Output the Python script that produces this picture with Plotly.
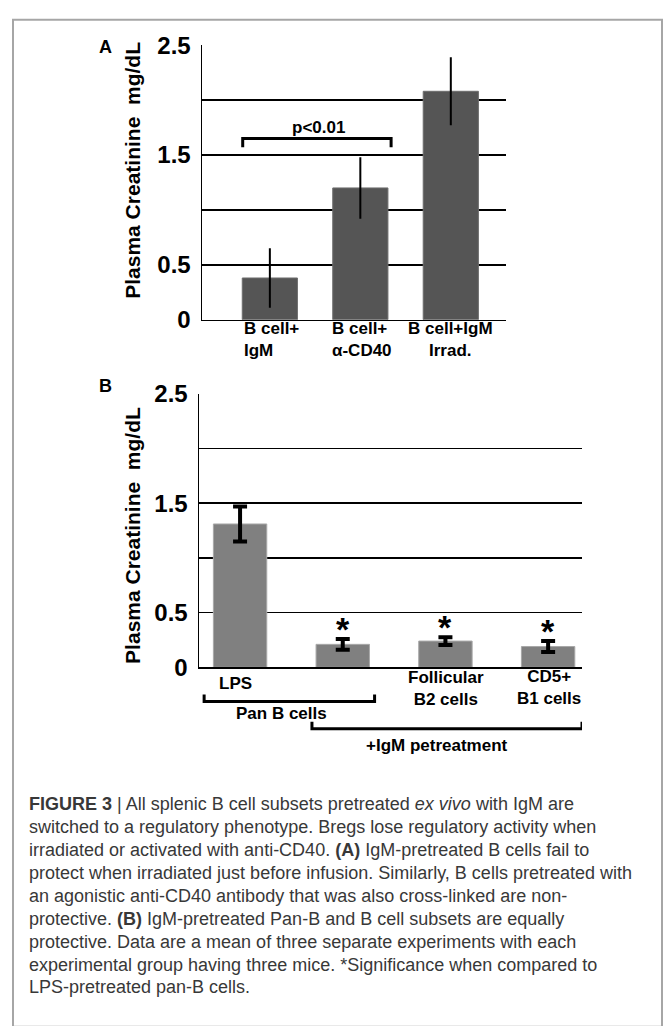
import plotly.graph_objects as go

# ---------------- data ----------------
a_categories = ["B cell+ IgM", "B cell+ α-CD40", "B cell+IgM Irrad."]
a_ticktext = ["B cell+<br>IgM", "B cell+<br>α-CD40", "B cell+IgM<br>Irrad."]
a_values = [0.38, 1.20, 2.08]
a_errors = [0.27, 0.28, 0.31]

b_categories = ["LPS Pan B", "IgM Pan B", "Follicular B2", "CD5+ B1"]
b_ticktext = ["LPS", "", "Follicular<br>B2 cells", "CD5+<br>B1 cells"]
b_values = [1.31, 0.21, 0.24, 0.19]
b_errors = [0.16, 0.05, 0.035, 0.05]
b_star = [False, True, True, True]

y_tickvals = [0, 0.5, 1.0, 1.5, 2.0, 2.5]
y_ticktext = ["0", "0.5", "", "1.5", "", "2.5"]

caption_lines = [
    "<b>FIGURE 3</b> | All splenic B cell subsets pretreated <i>ex vivo</i> with IgM are",
    "switched to a regulatory phenotype. Bregs lose regulatory activity when",
    "irradiated or activated with anti-CD40. <b>(A)</b> IgM-pretreated B cells fail to",
    "protect when irradiated just before infusion. Similarly, B cells pretreated with",
    "an agonistic anti-CD40 antibody that was also cross-linked are non-",
    "protective. <b>(B)</b> IgM-pretreated Pan-B and B cell subsets are equally",
    "protective. Data are a mean of three separate experiments with each",
    "experimental group having three mice. *Significance when compared to",
    "LPS-pretreated pan-B cells.",
]

# ---------------- figure ----------------
W, H = 665, 1026
FONT = "Liberation Sans, Arial, sans-serif"


def px_x(p):
    return p / W


def px_y(p):
    return 1 - p / H


fig = go.Figure()

fig.add_trace(go.Bar(
    x=a_categories, y=a_values, xaxis="x", yaxis="y",
    width=0.61,
    marker=dict(color="#555555", line=dict(color="#6e6e6e", width=1)),
    error_y=dict(type="data", array=a_errors, color="black", thickness=2, width=0),
    showlegend=False, hoverinfo="skip",
))

fig.add_trace(go.Bar(
    x=b_categories, y=b_values, xaxis="x2", yaxis="y2",
    width=0.52,
    marker=dict(color="#808080", line=dict(color="#a8a8a8", width=1)),
    error_y=dict(type="data", array=b_errors, color="black", thickness=4, width=7),
    showlegend=False, hoverinfo="skip",
))

axis_common_y = dict(
    range=[0, 2.5], tickvals=y_tickvals, ticktext=["<b>%s</b>" % t if t else "" for t in y_ticktext],
    showgrid=True, gridcolor="black", gridwidth=1.5,
    showline=True, linecolor="black", linewidth=1.5,
    zeroline=False, ticks="", ticklabelstandoff=5,
    tickfont=dict(family=FONT, size=24, color="black"),
    fixedrange=True,
)

fig.update_layout(
    width=W, height=H,
    margin=dict(l=0, r=0, t=0, b=0),
    paper_bgcolor="white", plot_bgcolor="white",
    bargap=0,
    font=dict(family=FONT, color="black"),
    xaxis=dict(
        domain=[px_x(202), px_x(506)], anchor="y",
        type="category", categoryorder="array", categoryarray=a_categories,
        range=[-0.75, 2.61], showticklabels=False,
        showline=True, linecolor="black", linewidth=1.5,
        showgrid=False, zeroline=False, ticks="", fixedrange=True,
    ),
    yaxis=dict(domain=[px_y(314), px_y(32)], anchor="x", **axis_common_y),
    xaxis2=dict(
        domain=[px_x(199), px_x(582)], anchor="y2",
        type="category", categoryorder="array", categoryarray=b_categories,
        range=[-0.40, 3.33], showticklabels=False,
        showline=True, linecolor="black", linewidth=1.5,
        showgrid=False, zeroline=False, ticks="", fixedrange=True,
    ),
    yaxis2=dict(domain=[px_y(671), px_y(390)], anchor="x2", **axis_common_y),
)

shapes = []
annotations = []

# outer gray frame
shapes.append(dict(type="rect", xref="paper", yref="paper",
                   x0=px_x(13), x1=px_x(662), y0=px_y(1040), y1=px_y(6),
                   line=dict(color="#a6a6a6", width=2), fillcolor="rgba(0,0,0,0)", layer="below"))

# panel letters
annotations.append(dict(text="<b>A</b>", xref="paper", yref="paper", x=px_x(105), y=px_y(34),
                        showarrow=False, xanchor="center", yanchor="middle",
                        font=dict(family=FONT, size=18, color="black")))
annotations.append(dict(text="<b>B</b>", xref="paper", yref="paper", x=px_x(105), y=px_y(382),
                        showarrow=False, xanchor="center", yanchor="middle",
                        font=dict(family=FONT, size=18, color="black")))

# y-axis titles
for cy in (161, 536):
    annotations.append(dict(text="<b>Plasma Creatinine\u00a0\u00a0mg/dL</b>", xref="paper", yref="paper",
                            x=px_x(133), y=px_y(cy), textangle=-90, showarrow=False,
                            xanchor="center", yanchor="middle",
                            font=dict(family=FONT, size=21, color="black")))

# category labels panel A (placed on the x axis)
a_align = ["left", "left", "center"]
a_xshift = [2, 2, 0]
for cat, txt, al, xs in zip(a_categories, a_ticktext, a_align, a_xshift):
    annotations.append(dict(text="<b>%s</b>" % txt, xref="x", yref="paper", x=cat, y=px_y(334),
                            showarrow=False, xanchor="center", yanchor="middle", align=al, xshift=xs,
                            font=dict(family=FONT, size=17, color="black")))

# category labels panel B
b_label_y = [688, 693, 693, 691.5]
b_label_dx = [-5, 0, 1, 1]
for cat, txt, ly, dx in zip(b_categories, b_ticktext, b_label_y, b_label_dx):
    if txt:
        annotations.append(dict(text="<b>%s</b>" % txt, xref="x2", yref="paper", x=cat, y=px_y(ly),
                                showarrow=False, xanchor="center", yanchor="middle", xshift=dx,
                                font=dict(family=FONT, size=17, color="black")))

# panel A significance bracket
shapes.append(dict(type="path", xref="x", yref="y",
                   path="M -0.30,1.57 L -0.30,1.65 L 1.34,1.65 L 1.34,1.57",
                   line=dict(color="black", width=3)))
annotations.append(dict(text="<b>p<0.01</b>", xref="x", yref="y", x=0.54, y=1.75,
                        showarrow=False, xanchor="center", yanchor="middle",
                        font=dict(family=FONT, size=17, color="black")))

# panel B stars
for cat, v, e, s in zip(b_categories, b_values, b_errors, b_star):
    if s:
        annotations.append(dict(text="<b>*</b>", xref="x2", yref="y2", x=cat, y=v + e + 0.09,
                                showarrow=False, xanchor="center", yanchor="middle",
                                font=dict(family=FONT, size=34, color="black")))

# panel B group brackets (below axis)
shapes.append(dict(type="path", xref="x2", yref="paper",
                   path="M -0.35,%f L -0.35,%f L 1.31,%f L 1.31,%f" % (px_y(699), px_y(706), px_y(706), px_y(699)),
                   line=dict(color="black", width=3)))
shapes.append(dict(type="path", xref="x2", yref="paper",
                   path="M 0.70,%f L 0.70,%f L 3.33,%f L 3.33,%f" % (px_y(727), px_y(734), px_y(734), px_y(727)),
                   line=dict(color="black", width=3)))
annotations.append(dict(text="<b>Pan B cells</b>", xref="x2", yref="paper", x=0.40, y=px_y(718),
                        showarrow=False, xanchor="center", yanchor="middle",
                        font=dict(family=FONT, size=17, color="black")))
annotations.append(dict(text="<b>+IgM petreatment</b>", xref="x2", yref="paper", x=1.92, y=px_y(751),
                        showarrow=False, xanchor="center", yanchor="middle",
                        font=dict(family=FONT, size=17, color="black")))

# caption
for i, line in enumerate(caption_lines):
    annotations.append(dict(text=line, xref="paper", yref="paper", x=px_x(27), y=px_y(811 + i * 23.6),
                            showarrow=False, xanchor="left", yanchor="middle", align="left",
                            font=dict(family=FONT, size=18, color="#383838")))

fig.update_layout(shapes=shapes, annotations=annotations)

fig.write_html(
    "out.html",
    config={"displayModeBar": False, "staticPlot": True},
    post_script="document.body.style.margin='0';document.body.style.padding='0';document.body.style.overflow='hidden';",
)
